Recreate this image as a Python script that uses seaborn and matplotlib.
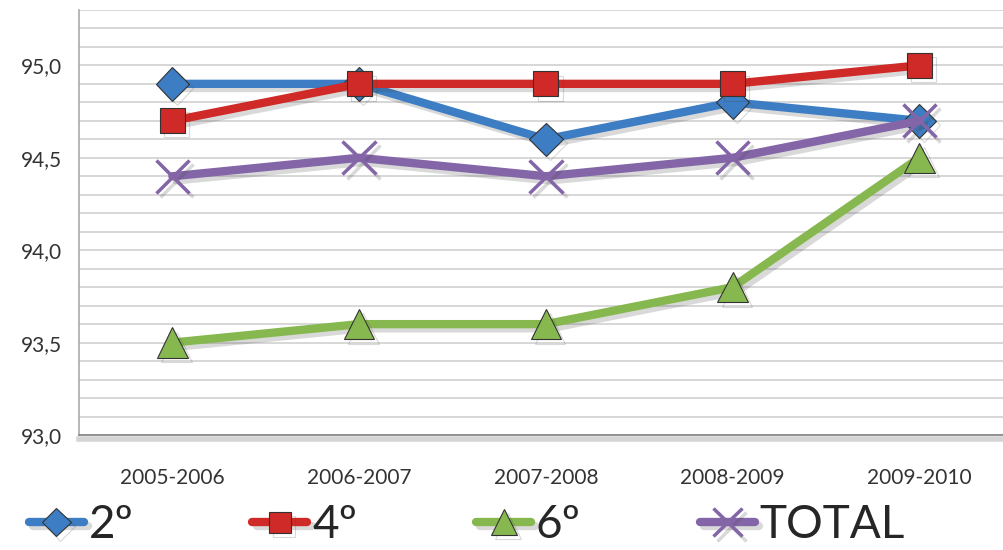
import matplotlib
matplotlib.use("Agg")
import matplotlib.pyplot as plt
import matplotlib.patheffects as pe
import seaborn as sns
import pandas as pd

# school years
years = ["2005-2006", "2006-2007", "2007-2008", "2008-2009", "2009-2010"]

# series values
grado_2 = [94.9, 94.9, 94.6, 94.8, 94.7]
grado_4 = [94.7, 94.9, 94.9, 94.9, 95.0]
grado_6 = [93.5, 93.6, 93.6, 93.8, 94.5]
total = [94.4, 94.5, 94.4, 94.5, 94.7]

series_names = ["2º", "4º", "6º", "TOTAL"]
y_ticks = [93.0, 93.5, 94.0, 94.5, 95.0]

colors = {"2º": "#3c7dc4", "4º": "#cf2a27", "6º": "#86b84f", "TOTAL": "#8466a8"}
markers = {"2º": "D", "4º": "s", "6º": "^", "TOTAL": "x"}
msizes = {"2º": 17, "4º": 18, "6º": 22, "TOTAL": 24}

sns.set_theme(style="white")
plt.rcParams["font.family"] = ["Lato", "DejaVu Sans"]

df = pd.DataFrame({"year": years, "2º": grado_2, "4º": grado_4, "6º": grado_6, "TOTAL": total})
long_df = df.melt(id_vars="year", var_name="serie", value_name="valor")

fig = plt.figure(figsize=(10.04, 5.5), dpi=100)
ax = fig.add_axes([0.0787, 0.209, 0.93, 0.773])

shadow = [pe.SimpleLineShadow(offset=(3, -3), alpha=0.2, shadow_color="#444444"), pe.Normal()]

for name in series_names:
    sub = long_df[long_df["serie"] == name]
    sns.lineplot(data=sub, x="year", y="valor", ax=ax, color=colors[name], lw=6,
                 marker=markers[name], markersize=msizes[name],
                 markeredgecolor=colors[name] if name == "TOTAL" else "#333333",
                 markeredgewidth=2.5 if name == "TOTAL" else 0.8,
                 label=name, path_effects=shadow, zorder=3)

ax.set_xlim(-0.5, 4.5)
ax.set_ylim(93.0, 95.3)
ax.set_yticks(y_ticks)
ax.set_yticklabels([f"{v:.1f}".replace(".", ",") for v in y_ticks])
ax.set_yticks([93.0 + 0.1 * i for i in range(24)], minor=True)
ax.grid(axis="y", which="both", color="#d4d4d4", lw=1.3)
ax.set_axisbelow(True)
ax.set_xlabel("")
ax.set_ylabel("")
ax.tick_params(axis="y", which="both", length=0, pad=12, labelsize=15, labelcolor="#333333")
ax.tick_params(axis="x", length=0, pad=24, labelsize=15, labelcolor="#333333")

for s in ["top", "right"]:
    ax.spines[s].set_visible(False)
ax.spines["left"].set_color("#aaaaaa")
ax.spines["left"].set_linewidth(1.2)
ax.spines["bottom"].set_color("#8a8a8a")
ax.spines["bottom"].set_linewidth(1.3)
ax.spines["bottom"].set_path_effects([pe.SimpleLineShadow(offset=(0, -2.5), alpha=0.18, linewidth=4), pe.Normal()])

handles, labels = ax.get_legend_handles_labels()
ax.legend().remove()
fig.legend(handles, labels, loc="center", ncol=4, bbox_to_anchor=(0.465, 0.045),
           frameon=False, fontsize=33, handlelength=1.2, columnspacing=2.6,
           handletextpad=0.1, markerscale=0.85, borderpad=0.1)

fig.savefig("out.png", dpi=100)
